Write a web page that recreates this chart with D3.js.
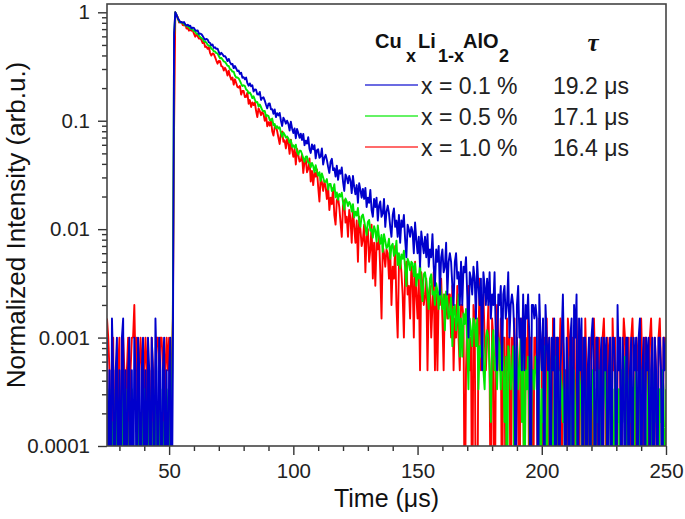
<!DOCTYPE html>
<html><head><meta charset="utf-8">
<script src="https://cdn.jsdelivr.net/npm/d3@7"></script>
<style>
html,body{margin:0;padding:0;background:#fff;}
svg{display:block;}
text{font-family:"Liberation Sans",Arial,sans-serif;}
</style>
</head><body>
<svg id="chart" width="685" height="519"></svg>
<script>
// ---------- data ----------
const timeStart = 25;      // µs, first sample
const timeStep = 0.5;      // µs between samples
const seriesNames = ["x = 0.1 %", "x = 0.5 %", "x = 1.0 %"];
const lifetimes = ["19.2 μs", "17.1 μs", "16.4 μs"];
const peakCounts = [2000, 6000, 2000];

// raw photon counts per time bin (x = 0.1 %)
const blueCounts = [
2,0,1,0,3,1,0,1,2,0, 1,0,2,3,0,1,0,1,2,0, 1,0,2,1,0,2,1,0,1,2, 0,1,0,2,1,0,2,1,0,3, 1,0,2,1,0,1,2,0,1,0, 1,2,0,1,
1300,2000,
1899,1758,1694,1619,1631,1600,1627,1544,1510,1536,
1495,1504,1423,1446,1437,1368,1351,1363,1264,1270,
1259,1212,1161,1115,1135,1122,1058,1041,993,1008,
938,952,921,925,861,815,848,819,785,789,
757,709,744,695,662,669,611,639,606,574,
580,540,555,498,505,482,500,444,421,442,
416,425,371,389,386,350,348,369,311,325,
329,307,281,260,287,289,255,256,232,254,
216,235,224,236,201,179,213,202,188,200,
187,162,196,170,154,170,138,168,154,139,
152,133,151,119,131,123,141,110,101,121,
109,119,90,107,109,91,94,111,79,91,
97,87,75,66,84,89,70,73,61,77,
57,70,65,74,55,45,64,60,53,62,
56,43,62,49,42,51,35,53,46,39,
47,38,48,32,39,35,46,30,26,38,
32,39,24,33,36,26,28,38,21,29,
33,28,21,17,27,31,21,24,17,27,
15,24,21,27,16,11,22,20,17,21,
19,12,23,16,12,17,9,19,15,12,
17,11,18,9,13,11,18,9,6,13,
10,14,5,11,13,8,9,15,5,10,
12,10,6,4,10,12,7,8,4,10,
4,9,8,11,5,2,8,7,5,9,
7,3,10,6,4,7,1,8,6,4,
7,4,8,3,5,4,8,2,1,5,
4,6,1,5,6,3,4,8,2,4,
5,4,2,0,4,6,2,3,1,5,
1,4,3,5,2,0,4,4,3,4,
3,0,5,2,1,3,0,4,2,1,
2,0,2,1,3,0,2,2,0,1, 2,5,1,0,2,1,0,2,3,0, 4,2,5,0,3,1,3,0,2,2, 0,1,2,0,2,3,1,0,2,2,
0,1,2,0,2,1,2,0,1,2, 0,2,2,1,0,4,1,2,0,2, 1,0,2,2,0,1,2,0,2,1, 2,0,2,3,0,1,2,0,2,1,
2,0,1,2,0,2,1,0,2,2, 1,0,2,1,2
];

// raw photon counts per time bin (x = 0.5 %)
const greenCounts = [
1,0,2,0,1,0,0,2,1,0, 1,0,2,0,1,2,0,0,1,0, 2,1,0,0,1,2,0,1,0,1, 2,0,0,1,2,0,1,0,0,2, 1,0,1,2,0,0,1,0,2,1, 0,2,1,9,
3600,6000,
5654,5294,4954,4828,4852,4803,4642,4585,4457,4466,
4365,4227,4270,4130,4024,3979,3792,3796,3667,3541,
3462,3420,3234,3218,3152,3011,2953,2946,2759,2741,
2615,2608,2527,2504,2370,2260,2281,2201,2112,2090,
2020,1922,1918,1791,1776,1701,1700,1569,1500,1508,
1473,1398,1321,1253,1274,1253,1165,1141,1074,1092,
1043,970,1010,938,886,892,810,847,799,752,
734,737,656,675,663,609,604,628,545,561,
512,534,510,522,465,427,467,446,419,430,
412,377,397,345,356,338,361,310,292,317,
317,296,271,251,279,281,246,247,223,245,
229,202,233,205,187,201,167,196,180,164,
164,174,139,157,157,135,138,156,118,131,
112,127,120,130,106,91,115,108,98,107,
102,87,102,77,87,80,94,70,63,79,
82,72,62,53,70,73,58,60,50,64,
58,46,65,51,44,53,37,54,47,40,
42,49,32,42,44,34,36,47,28,36,
26,35,32,38,26,18,32,30,25,30,
29,22,29,18,23,21,29,17,13,23,
24,20,15,11,21,23,15,16,12,19,
16,11,20,14,11,15,7,16,13,9,
10,14,5,11,12,7,9,15,4,9,
4,10,8,11,5,2,9,7,5,9,
8,5,9,2,5,4,9,3,2,6,
7,6,3,1,5,7,3,4,2,6,
5,2,7,3,1,4,0,5,4,2,
3,5,0,4,5,2,3,6,1,4,
0,3,2,4,1,0,3,3,2,4,
3,1,4,0,2,1,5,1,0,3,
2,3,1,0,2,4,1,2,0,3, 2,1,3,0,2,2,1,4,0,2, 3,1,0,2,3,2,1,0,3,2, 1,2,4,0,1,3,2,0,2,1,
3,2,0,1,2,3,1,0,2,4, 1,2,0,3,2,1,2,0,3,1, 2,4,1,0,2,3,1,2,0,2, 3,1,2,0,1,3,2,2,0,1,
3,2,1,0,2,3,1,2,0,2, 1,3,2,0,2
];

// raw photon counts per time bin (x = 1.0 %)
const redCounts = [
3,2,1,0,1,2,0,1,0,1, 2,0,1,2,1,0,1,2,0,1, 2,2,4,1,2,0,1,2,1,0, 1,2,1,0,1,0,2,1,0,1, 2,2,1,2,2,1,0,1,2,1, 2,0,1,3,
172,2000,
1873,1809,1610,1639,1620,1527,1513,1550,1415,1439,
1353,1392,1351,1370,1270,1191,1251,1202,1144,1153,
1113,1040,1068,958,967,920,951,842,798,835,
824,772,718,671,713,710,639,632,581,615,
581,522,579,518,479,501,430,482,445,410,
404,419,348,377,376,330,332,363,287,310,
268,295,279,295,247,216,260,246,225,241,
230,200,225,178,194,180,207,160,146,175,
178,160,139,122,153,159,128,132,111,136,
124,99,134,108,93,110,79,110,97,84,
86,97,66,84,88,67,72,90,55,69,
51,67,61,71,49,36,60,54,45,55,
49,38,50,30,39,34,48,27,22,37,
39,32,23,17,33,37,23,26,17,30,
25,15,32,21,15,24,10,26,20,14,
16,22,8,17,20,10,13,22,7,15,
6,15,13,17,8,3,14,12,9,13,
12,7,13,4,9,7,14,4,2,9,
11,8,5,2,8,10,5,6,3,9,
7,2,10,5,3,7,1,8,6,4,
5,7,1,5,6,2,4,8,1,5,
1,5,4,7,3,1,5,4,3,5,
5,2,6,1,3,2,6,2,1,4,
4,3,0,1,3,6,1,2,0,4,
3,0,0,2,7,1,3,5,2,1,
2,4,1,0,3,2,0,1,4,2,
1,3,0,2,2,0,3,1,2,0,
2,1,3,0,2,1,0,2,3,1,
0,2,1,3,0,2,1,0,2,2,
1,0,3,2,1,0,2,1,3,0,
2,1,0,3,1,2,0,2,1,3, 0,2,1,1,0,3,2,0,1,2, 2,0,3,1,0,2,1,2,0,3, 1,0,2,2,1,0,3,1,2,0,
2,1,0,2,3,1,0,2,1,2, 0,3,1,2,0,1,2,2,0,1, 3,2,0,1,2,0,2,3,1,0, 2,1,2,0,3,1,0,2,2,1,
0,2,3,1,0,2,1,0,2,3, 1,0,2,2,1
];

const seriesCounts = [blueCounts, greenCounts, redCounts];
const seriesColors = ["#0000cc", "#00e600", "#ff0000"];
const legendColors = ["#3a3ad8", "#33ee33", "#ff3a3a"];

const xMajorTicks = [50, 100, 150, 200, 250];
const xMinorTicks = [30, 40, 60, 70, 80, 90, 110, 120, 130, 140, 160, 170, 180, 190, 210, 220, 230, 240];
const yMajorTicks = [1, 0.1, 0.01, 0.001, 0.0001];
const yTickLabels = ["1", "0.1", "0.01", "0.001", "0.0001"];
const yMinorTicks = [
  0.0002,0.0003,0.0004,0.0005,0.0006,0.0007,0.0008,0.0009,
  0.002,0.003,0.004,0.005,0.006,0.007,0.008,0.009,
  0.02,0.03,0.04,0.05,0.06,0.07,0.08,0.09,
  0.2,0.3,0.4,0.5,0.6,0.7,0.8,0.9
];

// ---------- layout ----------
const svg = d3.select("#chart");
const plot = {left: 107, right: 666, top: 4, bottom: 446};

const x = d3.scaleLinear().domain([25, 250]).range([plot.left, plot.right]);
const y = d3.scaleLog().domain([0.0001, 1.193]).range([plot.bottom, plot.top]);
const floorValue = 0.00001; // zero counts are drawn to below the axis

svg.append("defs").append("clipPath").attr("id", "clip")
  .append("rect")
  .attr("x", plot.left).attr("y", plot.top)
  .attr("width", plot.right - plot.left).attr("height", plot.bottom - plot.top);

// ---------- traces ----------
const traces = svg.append("g").attr("clip-path", "url(#clip)");
[2, 1, 0].forEach(k => {
  const peak = peakCounts[k];
  const line = d3.line()
    .x((d, i) => x(timeStart + i * timeStep))
    .y(d => y(Math.max(d / peak, floorValue)));
  traces.append("path")
    .datum(seriesCounts[k])
    .attr("d", line)
    .attr("fill", "none")
    .attr("stroke", seriesColors[k])
    .attr("stroke-width", 1.9)
    .attr("stroke-linejoin", "round");
});

// ---------- axes ----------
const axisColor = "#333";
const labelColor = "#222";

const gx = svg.append("g").attr("transform", `translate(0,${plot.bottom})`);
gx.call(d3.axisBottom(x).tickValues(xMajorTicks).tickSize(9).tickPadding(8).tickFormat(d3.format("d")));
const gxm = svg.append("g").attr("transform", `translate(0,${plot.bottom})`);
gxm.call(d3.axisBottom(x).tickValues(xMinorTicks).tickSize(5).tickFormat(""));

const gy = svg.append("g").attr("transform", `translate(${plot.left},0)`);
gy.call(d3.axisLeft(y).tickValues(yMajorTicks).tickSize(9).tickPadding(8)
  .tickFormat((d, i) => yTickLabels[i]));
const gym = svg.append("g").attr("transform", `translate(${plot.left},0)`);
gym.call(d3.axisLeft(y).tickValues(yMinorTicks).tickSize(5).tickFormat(""));

[gx, gxm, gy, gym].forEach(g => {
  g.select(".domain").remove();
  g.selectAll(".tick line").attr("stroke", axisColor).attr("stroke-width", 1.4);
  g.selectAll(".tick text")
    .attr("fill", labelColor)
    .style("font-family", '"Liberation Sans", Arial, sans-serif')
    .style("font-size", "20.5px");
});

// frame
svg.append("rect")
  .attr("x", plot.left).attr("y", plot.top)
  .attr("width", plot.right - plot.left).attr("height", plot.bottom - plot.top)
  .attr("fill", "none").attr("stroke", "#444").attr("stroke-width", 1.6);

// axis titles
svg.append("text")
  .attr("x", (plot.left + plot.right) / 2).attr("y", 507)
  .attr("text-anchor", "middle")
  .attr("fill", "#111")
  .style("font-size", "25px")
  .text("Time (μs)");

svg.append("text")
  .attr("transform", `translate(25,${(plot.top + plot.bottom) / 2}) rotate(-90)`)
  .attr("text-anchor", "middle")
  .attr("fill", "#111")
  .style("font-size", "26px")
  .text("Normalized Intensity (arb.u.)");

// ---------- legend ----------
const legend = svg.append("g");
const title = legend.append("text")
  .attr("y", 48).attr("fill", "#111")
  .style("font-weight", "bold").style("font-size", "20px");
const titleParts = [
  {t: "Cu", x: 375, sub: false},
  {t: "x", x: 406, sub: true},
  {t: "Li", x: 418, sub: false},
  {t: "1-x", x: 438, sub: true},
  {t: "AlO", x: 463, sub: false},
  {t: "2", x: 499, sub: true}
];
titleParts.forEach(p => {
  title.append("tspan")
    .attr("x", p.x)
    .attr("y", p.sub ? 62 : 48)
    .style("font-size", p.sub ? "18px" : "20px")
    .text(p.t);
});

legend.append("text")
  .attr("x", 593).attr("y", 51)
  .attr("text-anchor", "middle")
  .attr("fill", "#111")
  .style("font-family", '"Liberation Serif", "DejaVu Serif", serif')
  .style("font-style", "italic").style("font-weight", "bold")
  .style("font-size", "25px")
  .text("τ");

seriesNames.forEach((name, k) => {
  const rowY = 85 + k * 31;
  legend.append("line")
    .attr("x1", 365).attr("x2", 418)
    .attr("y1", rowY).attr("y2", rowY)
    .attr("stroke", legendColors[k]).attr("stroke-width", 1.4);
  legend.append("text")
    .attr("x", 421).attr("y", rowY + 9)
    .attr("fill", "#222")
    .style("font-size", "23px")
    .text(name);
  legend.append("text")
    .attr("x", 553).attr("y", rowY + 9)
    .attr("fill", "#222")
    .style("font-size", "23px")
    .text(lifetimes[k]);
});
</script>
</body></html>
